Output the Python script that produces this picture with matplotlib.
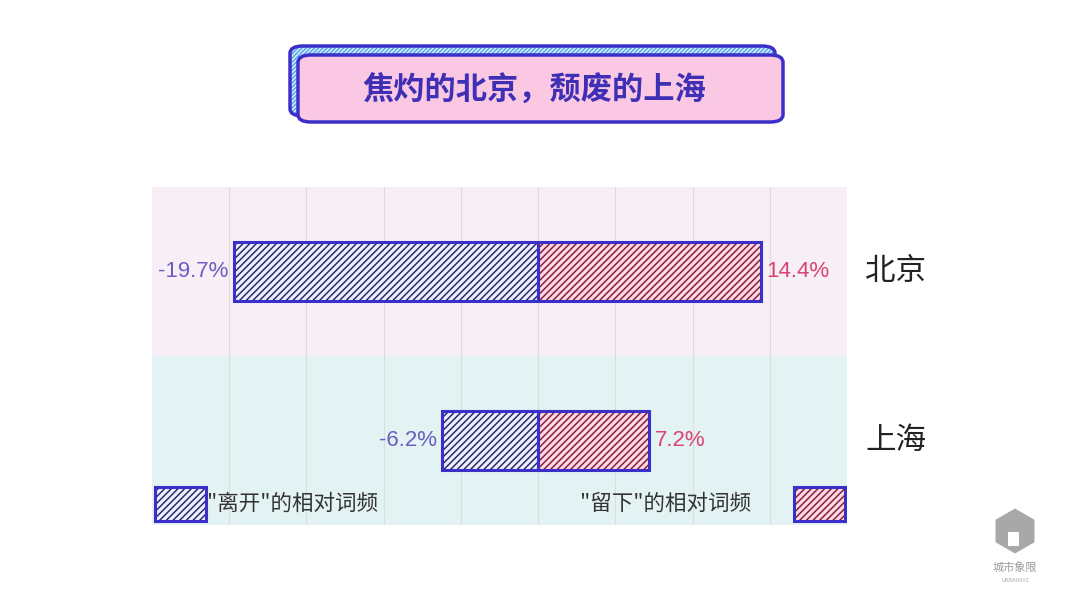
import numpy as np
import matplotlib
matplotlib.use('Agg')
import matplotlib.pyplot as plt
from matplotlib.patches import FancyBboxPatch, Rectangle, RegularPolygon

plt.rcParams['font.family'] = ['Noto Sans CJK SC', 'DejaVu Sans']
plt.rcParams['hatch.linewidth'] = 1.1

# -------------------- data --------------------
cities = ['北京', '上海']
leave = [-19.7, -6.2]   # "离开"的相对词频
stay = [14.4, 7.2]      # "留下"的相对词频
title = '焦灼的北京，颓废的上海'
leave_label = '"离开"的相对词频'
stay_label = '"留下"的相对词频'

# -------------------- colours --------------------
edge_blue = '#3a2fc8'
leave_face, leave_hatch = '#eef0ff', '#2b2a70'
stay_face, stay_hatch = '#ffd9e4', '#8a1f3c'
leave_txt, stay_txt = '#6a5fc0', '#d6456f'
hatch = '/////'

fig = plt.figure(figsize=(10.8, 6.08), dpi=100)
fig.patch.set_facecolor('white')

# -------------------- title box --------------------
box_style = 'round,pad=0,rounding_size=0.012'
fig.patches.append(FancyBboxPatch((290 / 1080, 1 - 116 / 608), 485 / 1080, 70 / 608,
                                  boxstyle=box_style, transform=fig.transFigure,
                                  facecolor='#e2f1ff', edgecolor='#55a8e8',
                                  hatch='////////', linewidth=0))
fig.patches.append(FancyBboxPatch((290 / 1080, 1 - 116 / 608), 485 / 1080, 70 / 608,
                                  boxstyle=box_style, transform=fig.transFigure,
                                  fill=False, edgecolor=edge_blue, linewidth=2.5))
fig.patches.append(FancyBboxPatch((298 / 1080, 1 - 122 / 608), 485 / 1080, 67 / 608,
                                  boxstyle=box_style, transform=fig.transFigure,
                                  facecolor='#fbc8e4', edgecolor=edge_blue,
                                  linewidth=2.5))
fig.text(534 / 1080, 1 - 90 / 608, title, ha='center', va='center',
         fontsize=22.5, fontweight='bold', color='#3f2fb4')

# -------------------- main chart --------------------
ax = fig.add_axes([152 / 1080, 1 - 525 / 608, 695 / 1080, 338 / 608])
y = np.arange(len(cities))[::-1]
h = 0.355

ax.axhspan(0.5, 1.5, color='#f8eef5', zorder=0)
ax.axhspan(-0.5, 0.5, color='#e3f3f3', zorder=0)
for gx in np.arange(-20, 20, 5):
    ax.axvline(gx, color='#dcdcdc', linewidth=0.8, zorder=1)

ax.barh(y, leave, height=h, color=leave_face, edgecolor=leave_hatch,
        hatch=hatch, linewidth=0, zorder=2)
ax.barh(y, stay, height=h, color=stay_face, edgecolor=stay_hatch,
        hatch=hatch, linewidth=0, zorder=2)
ax.barh(y, leave, height=h, fill=False, edgecolor=edge_blue, linewidth=2.2, zorder=3)
ax.barh(y, stay, height=h, fill=False, edgecolor=edge_blue, linewidth=2.2, zorder=3)

for yi, lv, st, city in zip(y, leave, stay, cities):
    ax.annotate(f'{lv:.1f}%', (lv, yi), xytext=(-4, 0), textcoords='offset points',
                ha='right', va='center', fontsize=16, color=leave_txt,
                family='Liberation Sans')
    ax.annotate(f'{st:.1f}%', (st, yi), xytext=(4, 0), textcoords='offset points',
                ha='left', va='center', fontsize=16, color=stay_txt,
                family='Liberation Sans')
    ax.annotate(city, (1, yi), xycoords=('axes fraction', 'data'),
                xytext=(13, 0), textcoords='offset points',
                ha='left', va='center', fontsize=22, color='#222222')

ax.set_xlim(-25, 20)
ax.set_ylim(-0.5, 1.5)
ax.set_xticks([])
ax.set_yticks([])
for s in ax.spines.values():
    s.set_visible(False)

# -------------------- legend (drawn by hand) --------------------
for x0, face, hcol in [(0.004, leave_face, leave_hatch), (0.924, stay_face, stay_hatch)]:
    ax.add_patch(Rectangle((x0, 0.012), 0.073, 0.1, transform=ax.transAxes,
                           facecolor=face, edgecolor=hcol, hatch=hatch,
                           linewidth=0, zorder=4))
    ax.add_patch(Rectangle((x0, 0.012), 0.073, 0.1, transform=ax.transAxes,
                           fill=False, edgecolor=edge_blue, linewidth=2.2, zorder=5))
ax.text(0.079, 0.062, leave_label, transform=ax.transAxes, ha='left', va='center',
        fontsize=15.5, color='#333333')
ax.text(0.862, 0.062, stay_label, transform=ax.transAxes, ha='right', va='center',
        fontsize=15.5, color='#333333')

# -------------------- watermark --------------------
logo = fig.add_axes([990 / 1080, 1 - 556 / 608, 50 / 1080, 50 / 608])
logo.set_aspect('equal')
logo.set_xlim(-1, 1)
logo.set_ylim(-1, 1)
logo.axis('off')
logo.add_patch(RegularPolygon((0, 0), 6, radius=0.9, facecolor='#a8a8a8', edgecolor='none'))
logo.add_patch(Rectangle((-0.3, -0.6), 0.45, 0.55, facecolor='white', edgecolor='none'))
fig.text(1015 / 1080, 1 - 567 / 608, '城市象限', ha='center', va='center',
         fontsize=8, color='#9a9a9a')
fig.text(1015 / 1080, 1 - 580 / 608, 'URBANXYZ', ha='center', va='center',
         fontsize=4, color='#aaaaaa')

fig.savefig('out.png', dpi=100)
